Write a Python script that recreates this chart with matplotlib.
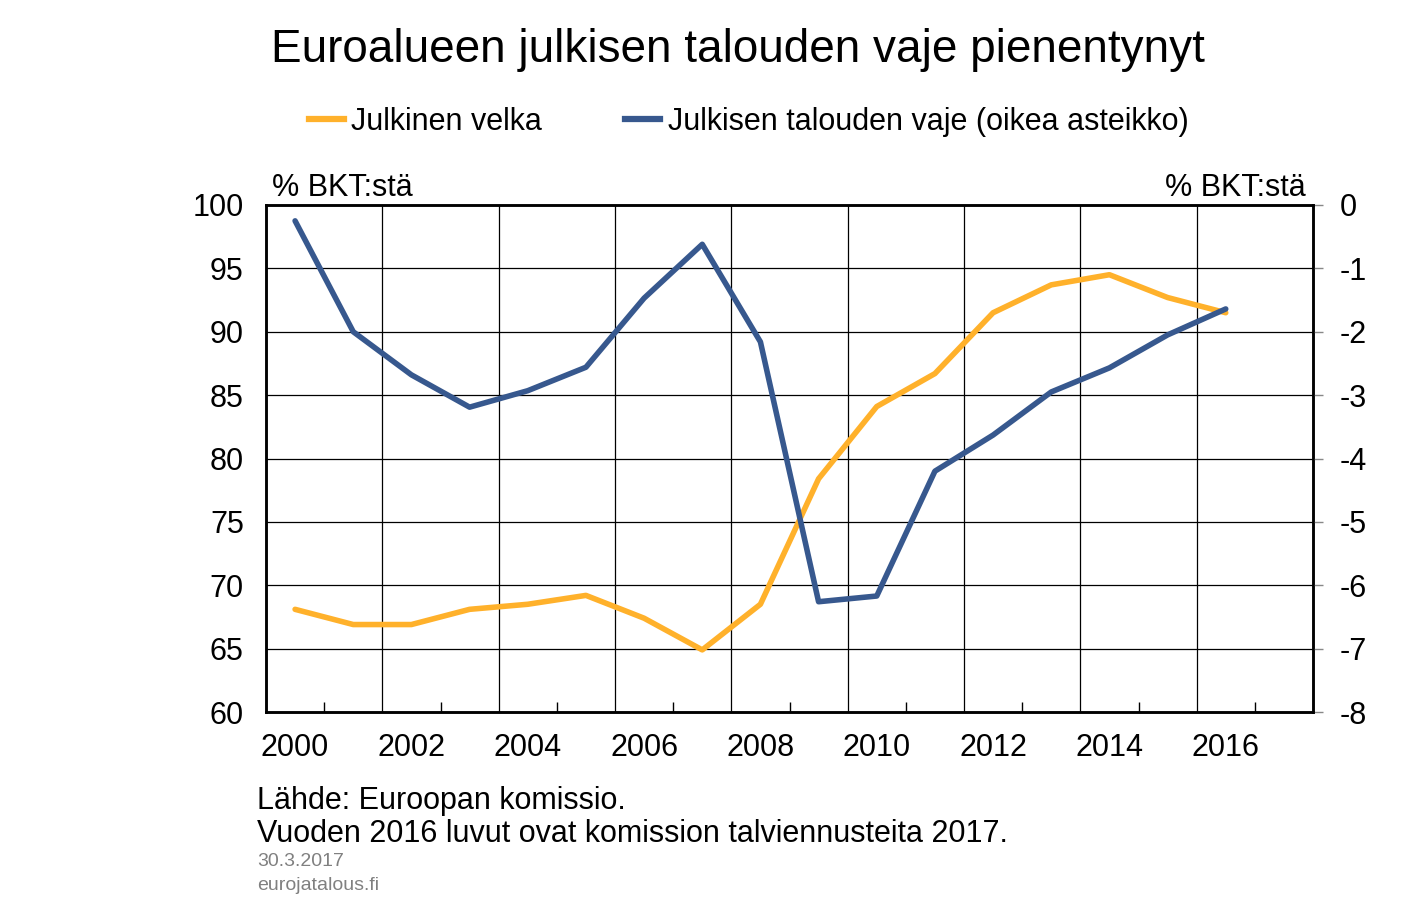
import matplotlib
matplotlib.use("Agg")
import matplotlib.pyplot as plt
from matplotlib.lines import Line2D

plt.rcParams['font.family'] = ['Liberation Sans', 'DejaVu Sans']

years = list(range(2000, 2017))
debt = [68.1, 66.9, 66.9, 68.1, 68.5, 69.2, 67.4, 64.9, 68.5, 78.4, 84.1, 86.7, 91.5, 93.7, 94.5, 92.7, 91.5]
deficit = [-0.25, -2.0, -2.68, -3.19, -2.93, -2.56, -1.47, -0.62, -2.16, -6.26, -6.17, -4.2, -3.63, -2.95, -2.57, -2.05, -1.64]
left_ticks = [60, 65, 70, 75, 80, 85, 90, 95, 100]
right_ticks = [0, -1, -2, -3, -4, -5, -6, -7, -8]
xlabels = [2000, 2002, 2004, 2006, 2008, 2010, 2012, 2014, 2016]

orange = '#FFB12B'
blue = '#37588E'
FS = 22

fig = plt.figure(figsize=(14.07, 9.19), dpi=100)
ax = fig.add_axes([266/1407, 1-712/919, (1313-266)/1407, (712-205)/919])
ax2 = ax.twinx()

ax.set_xlim(1999.5, 2017.5)
ax.set_ylim(60, 100)
ax2.set_ylim(-8, 0)

# grid
for y in left_ticks[1:-1]:
    ax.axhline(y, color='black', lw=0.9, zorder=0)
for x in range(2001, 2017, 2):
    ax.axvline(x + 0.5, color='black', lw=0.9, zorder=0)

ax.set_yticks(left_ticks)
ax.set_yticklabels([str(t) for t in left_ticks], fontsize=FS)
ax.tick_params(axis='y', length=0, pad=16)
ax.set_xticks(xlabels)
ax.set_xticklabels([str(t) for t in xlabels], fontsize=FS)
ax.tick_params(axis='x', length=0, pad=15)
ax.set_xticks([y + 0.5 for y in range(2000, 2017, 2)], minor=True)
ax.tick_params(axis='x', which='minor', direction='in', length=7, width=1, color='black')

ax2.set_yticks(right_ticks)
ax2.set_yticklabels([str(t) for t in right_ticks], fontsize=FS)
ax2.tick_params(axis='y', direction='out', length=7.5, width=1, color='#888888', pad=12)

for s in ax.spines.values():
    s.set_linewidth(1.8)
for s in ax2.spines.values():
    s.set_linewidth(1.8)

ax.plot(years, debt, color=orange, lw=4, solid_capstyle='round', zorder=3)
ax2.plot(years, deficit, color=blue, lw=4, solid_capstyle='round', zorder=4)

fig.text(738/1407, 1-50/919, 'Euroalueen julkisen talouden vaje pienentynyt', ha='center', va='center', fontsize=33)

handles = [Line2D([], [], color=orange, lw=4.5), Line2D([], [], color=blue, lw=4.5)]
fig.legend(handles, ['Julkinen velka', 'Julkisen talouden vaje (oikea asteikko)'],
           loc='center', bbox_to_anchor=(0.532, 1-122/919), ncol=2, frameon=False,
           fontsize=FS, handlelength=1.15, handletextpad=0.25, columnspacing=2.7)

fig.text(272/1407, 1-188/919, '% BKT:stä', ha='left', va='center', fontsize=FS)
fig.text(1306/1407, 1-188/919, '% BKT:stä', ha='right', va='center', fontsize=FS)

fig.text(257/1407, 1-801/919, 'Lähde: Euroopan komissio.', ha='left', va='center', fontsize=FS)
fig.text(257/1407, 1-834/919, 'Vuoden 2016 luvut ovat komission talviennusteita 2017.', ha='left', va='center', fontsize=FS)
fig.text(257/1407, 1-862/919, '30.3.2017', ha='left', va='center', fontsize=14, color='#808080')
fig.text(257/1407, 1-886/919, 'eurojatalous.fi', ha='left', va='center', fontsize=14, color='#808080')

fig.savefig('out.png', dpi=100)
